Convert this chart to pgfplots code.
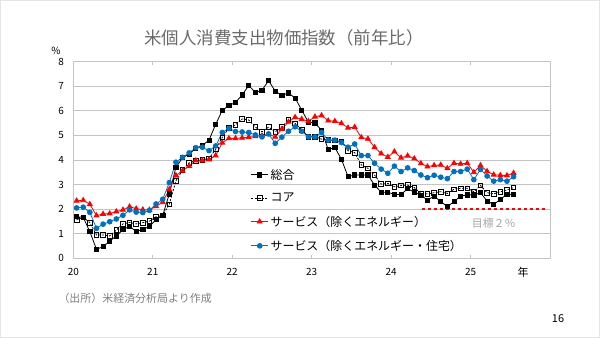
\documentclass[border=0pt]{standalone}
\usepackage{pgfplots}
\pgfplotsset{compat=1.18}
\usepackage{pgfplotstable}
\usepackage{fontspec}
\setmainfont{Noto Sans CJK JP}
\definecolor{gridc}{HTML}{C4C4C4}
\definecolor{ttl}{HTML}{6A6A6A}
\definecolor{src}{HTML}{7F7F7F}
\definecolor{goal}{HTML}{A6A6A6}
\definecolor{sblue}{HTML}{0070C0}
\definecolor{sred}{HTML}{FF0000}

\pgfplotstableread{
i tot core svc svcx
0 1.69 1.57 2.34 2.05
1 1.67 1.67 2.36 2.08
2 1.08 1.45 2.20 1.87
3 0.37 0.95 1.74 1.22
4 0.47 0.95 1.80 1.39
5 0.70 0.91 1.82 1.49
6 0.91 1.15 1.90 1.60
7 1.16 1.40 1.97 1.75
8 1.31 1.46 2.10 1.97
9 1.08 1.40 2.02 1.88
10 1.18 1.45 1.98 1.86
11 1.29 1.51 1.97 1.95
12 1.58 1.69 2.12 2.21
13 1.74 1.74 2.28 2.40
14 2.62 2.20 2.80 3.08
15 3.70 3.15 3.37 3.91
16 4.09 3.59 3.56 4.11
17 4.25 3.89 3.75 4.29
18 4.48 3.97 3.98 4.50
19 4.59 4.00 3.98 4.52
20 4.81 4.07 4.02 4.38
21 5.45 4.43 4.18 4.57
22 6.02 4.92 4.70 5.12
23 6.22 5.30 4.88 5.28
24 6.34 5.43 4.88 5.16
25 6.65 5.67 4.90 5.14
26 7.03 5.63 4.93 5.12
27 6.75 5.34 4.96 5.02
28 6.84 5.15 4.99 4.94
29 7.23 5.34 5.05 5.06
30 6.80 5.15 4.94 4.68
31 6.63 5.34 5.26 4.93
32 6.73 5.63 5.55 5.17
33 6.52 5.49 5.74 5.35
34 6.03 5.22 5.66 5.17
35 5.54 4.95 5.58 4.94
36 5.51 4.95 5.76 4.94
37 5.21 4.85 5.81 5.12
38 4.42 4.82 5.60 4.81
39 4.51 4.79 5.58 4.81
40 4.03 4.75 5.49 4.71
41 3.32 4.38 5.31 4.52
42 3.39 4.30 5.34 4.65
43 3.39 3.80 4.92 4.18
44 3.39 3.66 4.86 4.18
45 2.98 3.39 4.52 3.87
46 2.69 3.02 4.26 3.63
47 2.69 3.05 4.12 3.46
48 2.60 2.91 4.34 3.75
49 2.60 2.96 4.09 3.53
50 2.83 2.98 4.17 3.68
51 2.69 2.88 4.06 3.57
52 2.57 2.64 3.86 3.39
53 2.37 2.62 3.73 3.28
54 2.53 2.67 3.78 3.38
55 2.31 2.71 3.80 3.30
56 2.10 2.64 3.66 3.24
57 2.31 2.81 3.87 3.53
58 2.53 2.85 3.84 3.53
59 2.58 2.85 3.87 3.63
60 2.58 2.71 3.50 3.20
61 2.67 2.96 3.78 3.62
62 2.33 2.67 3.54 3.35
63 2.19 2.62 3.40 3.14
64 2.40 2.71 3.38 3.20
65 2.60 2.78 3.37 3.14
66 2.59 2.88 3.47 3.32
}\pcedata

\begin{document}
\begin{tikzpicture}
\path[use as bounding box] (0bp,0bp) rectangle (600bp,338bp);
\draw[gray!20, line width=0.8bp] (0.4bp,0.4bp) rectangle (599.6bp,337.6bp);
\begin{axis}[
  at={(73.3bp,79.7bp)}, anchor=south west,
  width=476.7bp, height=196.6bp, scale only axis,
  xmin=-0.5, xmax=71.5, ymin=0, ymax=8,
  xtick={-0.5,11.5,23.5,35.5,47.5,59.5},
  xticklabels={20,21,22,23,24,25},
  ytick={0,1,...,8},
  ymajorgrids, grid style={gridc, line width=0.9bp},
  axis line style={gridc, line width=0.9bp},
  x axis line style={gridc},
  xtick style={gridc, line width=0.8bp},
  ytick style={draw=none},
  tick align=inside, major tick length=3bp,
  /pgf/number format/assume math mode=true,
  ticklabel style={font=\fontsize{10}{12}\selectfont, text=black},
  yticklabel style={xshift=-6bp},
  xticklabel style={yshift=-6bp},
  legend style={at={(0.372,0.465)}, anchor=north west, draw=none, fill=none,
    font=\fontsize{12}{14}\selectfont, row sep=8.5bp, inner sep=0pt},
  legend cell align=left,
  clip=false,
]
\addplot[sred, line width=1.4bp, dash pattern=on 3.5bp off 2.5bp, forget plot] coordinates {(52.1,2) (70.7,2)};
\addplot[black, line width=0.8bp, mark=square*, mark size=2.1bp] table[x=i,y=tot]{\pcedata};
\addlegendentry{総合}
\addplot[black, line width=0.8bp, dash pattern=on 2bp off 1.5bp, mark=square, mark size=2.3bp, mark options={solid, fill=white, line width=0.8bp}] table[x=i,y=core]{\pcedata};
\addlegendentry{コア}
\addplot[sred, line width=0.8bp, mark=triangle*, mark size=2.8bp] table[x=i,y=svc]{\pcedata};
\addlegendentry{サービス（除くエネルギー）}
\addplot[sblue, line width=0.8bp, mark=*, mark size=2.4bp] table[x=i,y=svcx]{\pcedata};
\addlegendentry{サービス（除くエネルギー・住宅）}
\node[text=goal, font=\fontsize{11}{13}\selectfont] at (axis cs:63,1.44) {目標２％};
\end{axis}
\node[text=ttl, font=\fontsize{17.5}{20}\selectfont] at (284bp,300bp) {米個人消費支出物価指数（前年比）};
\node[font=\fontsize{10}{12}\selectfont] at (56bp,287bp) {\%};
\node[font=\fontsize{11}{13}\selectfont] at (523bp,66bp) {年};
\node[text=src, font=\fontsize{11}{13}\selectfont, anchor=west] at (55bp,40bp) {（出所）米経済分析局より作成};
\node[font=\fontsize{11}{13}\selectfont] at (558bp,19bp) {16};
\end{tikzpicture}
\end{document}
